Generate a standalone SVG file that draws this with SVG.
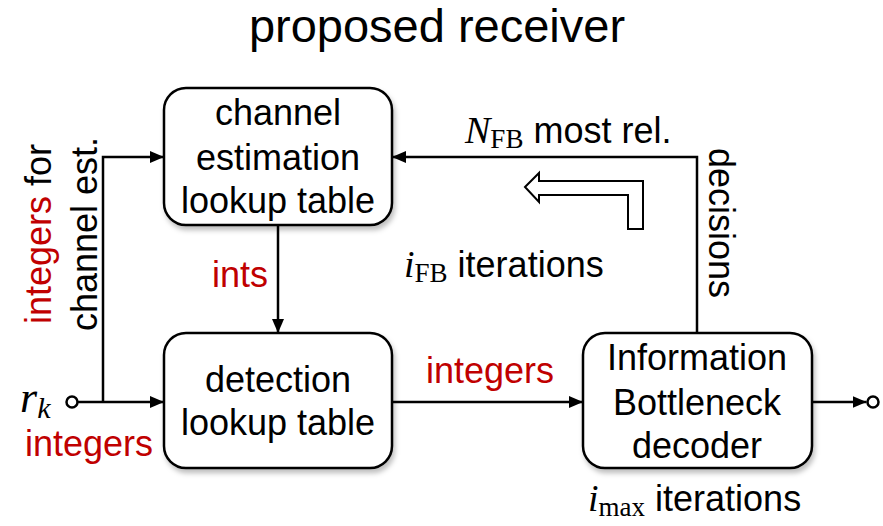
<svg xmlns="http://www.w3.org/2000/svg" width="883" height="526" viewBox="0 0 883 526">
<style>
text{font-family:"Liberation Sans",Arial,sans-serif;font-size:36px;fill:#000}
.title{font-size:47px}
.red{fill:#C00000}
.m{font-family:"Liberation Serif","DejaVu Serif",serif;font-style:italic;font-size:38px}
.sub{font-family:"Liberation Serif","DejaVu Serif",serif;font-style:normal;font-size:27px}
.box{fill:#fff;stroke:#000;stroke-width:2.5;filter:url(#sh)}
.ln{fill:none;stroke:#000;stroke-width:2.5}
.c{text-anchor:middle}
</style>
<defs>
<filter id="sh" x="-10%" y="-10%" width="125%" height="130%">
<feDropShadow dx="2" dy="4" stdDeviation="2.5" flood-color="#000" flood-opacity="0.25"/>
</filter>
<marker id="ah" viewBox="0 0 14 12" refX="14" refY="6" markerWidth="14" markerHeight="12" markerUnits="userSpaceOnUse" orient="auto">
<path d="M0,0 L14,6 L0,12 z" fill="#000"/>
</marker>
</defs>
<text class="title c" x="437" y="42">proposed receiver</text>

<g id="chan">
<rect class="box" x="164" y="88" width="228" height="137" rx="22"/>
<text class="c" x="278" y="125">channel</text>
<text class="c" x="278" y="170">estimation</text>
<text class="c" x="278" y="213">lookup table</text>
</g>
<g id="det">
<rect class="box" x="164" y="333" width="228" height="135" rx="22"/>
<text class="c" x="278" y="392">detection</text>
<text class="c" x="278" y="435">lookup table</text>
</g>
<g id="dec">
<rect class="box" x="583" y="333" width="229" height="135" rx="22"/>
<text class="c" x="697" y="370">Information</text>
<text class="c" x="697" y="415">Bottleneck</text>
<text class="c" x="697" y="458">decoder</text>
</g>

<g id="connectors">
<circle cx="72" cy="402" r="5.5" fill="#fff" stroke="#000" stroke-width="2.5"/>
<path class="ln" d="M77.5,402 H164" marker-end="url(#ah)"/>
<path class="ln" d="M103,402 V157 H164" marker-end="url(#ah)"/>
<path class="ln" d="M278,225 V333" marker-end="url(#ah)"/>
<path class="ln" d="M392,402 H583" marker-end="url(#ah)"/>
<path class="ln" d="M697,333 V157 H392" marker-end="url(#ah)"/>
<path class="ln" d="M812,402 H866.5" marker-end="url(#ah)"/>
<circle cx="873" cy="402" r="5.5" fill="#fff" stroke="#000" stroke-width="2.5"/>
<polygon points="525,187 539,173 539,181 643,181 643,229 628,229 628,195 539,195 539,202" fill="#fff" stroke="#000" stroke-width="2"/>
</g>

<text x="20" y="412"><tspan class="m" font-size="44" style="font-size:44px">r</tspan><tspan class="m" style="font-size:30px" dy="6">k</tspan></text>
<text class="red" x="25" y="456">integers</text>
<text class="red c" x="490" y="383">integers</text>
<text class="red" x="212" y="287">ints</text>
<text transform="translate(51,234) rotate(-90)" class="c"><tspan class="red">integers</tspan> for</text>
<text transform="translate(97,234) rotate(-90)" class="c">channel est.</text>
<text transform="translate(709,148) rotate(90)">decisions</text>
<text x="465" y="143"><tspan class="m">N</tspan><tspan class="sub" dy="5">FB</tspan><tspan dy="-5"> most rel.</tspan></text>
<text x="404" y="277"><tspan class="m">i</tspan><tspan class="sub" dy="5">FB</tspan><tspan dy="-5"> iterations</tspan></text>
<text x="588" y="511"><tspan class="m">i</tspan><tspan class="sub" dy="5">max</tspan><tspan dy="-5"> iterations</tspan></text>
</svg>
